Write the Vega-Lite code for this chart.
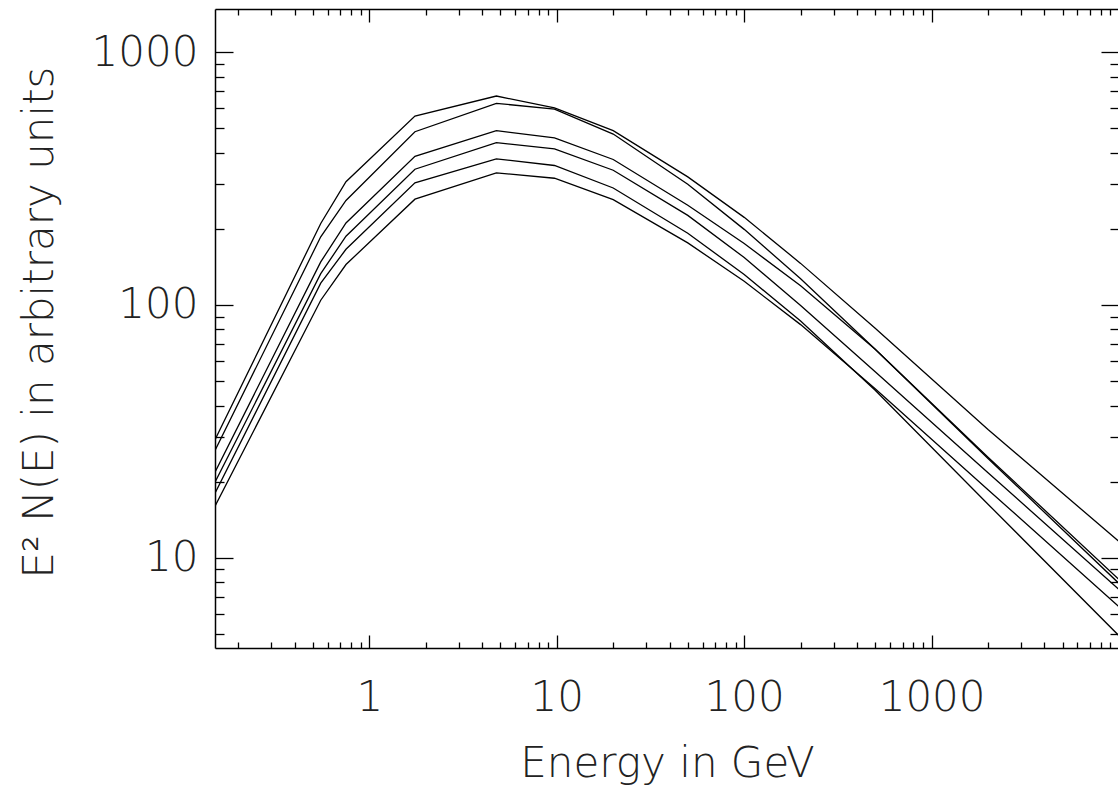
{
  "$schema": "https://vega.github.io/schema/vega-lite/v6.json",
  "width": 904,
  "height": 639,
  "autosize": {"type": "none"},
  "padding": {"left": 215, "top": 9, "right": 0, "bottom": 138},
  "background": "white",
  "config": {
    "view": {"stroke": null},
    "axis": {
      "grid": false,
      "domainColor": "black",
      "domainWidth": 1.5,
      "tickColor": "black",
      "tickWidth": 1.3,
      "labelFont": "'DejaVu Sans ExtraLight', 'DejaVu Sans'",
      "labelFontWeight": 200,
      "labelColor": "#222222",
      "titleFont": "'DejaVu Sans ExtraLight', 'DejaVu Sans'",
      "titleFontWeight": 200,
      "titleColor": "#222222",
      "labelOverlap": false,
      "labelFlush": false,
      "labelBound": false
    }
  },
  "datasets": {
    "curves": [
      {"curve": "A", "E": 0.15, "F": 29.3}, {"curve": "A", "E": 0.55, "F": 210}, {"curve": "A", "E": 0.75, "F": 307}, {"curve": "A", "E": 1.75, "F": 558}, {"curve": "A", "E": 4.76, "F": 670}, {"curve": "A", "E": 9.72, "F": 602}, {"curve": "A", "E": 20, "F": 489}, {"curve": "A", "E": 50, "F": 321}, {"curve": "A", "E": 100, "F": 222}, {"curve": "A", "E": 200, "F": 146}, {"curve": "A", "E": 500, "F": 80.9}, {"curve": "A", "E": 2000, "F": 32.2}, {"curve": "A", "E": 10000, "F": 11.6},
      {"curve": "B", "E": 0.15, "F": 26.6}, {"curve": "B", "E": 0.55, "F": 186}, {"curve": "B", "E": 0.75, "F": 259}, {"curve": "B", "E": 1.75, "F": 484}, {"curve": "B", "E": 4.76, "F": 627}, {"curve": "B", "E": 9.72, "F": 595}, {"curve": "B", "E": 20, "F": 474}, {"curve": "B", "E": 50, "F": 300}, {"curve": "B", "E": 100, "F": 199}, {"curve": "B", "E": 200, "F": 127}, {"curve": "B", "E": 500, "F": 66.8}, {"curve": "B", "E": 2000, "F": 25.0}, {"curve": "B", "E": 10000, "F": 8.21},
      {"curve": "C", "E": 0.15, "F": 21.8}, {"curve": "C", "E": 0.55, "F": 148}, {"curve": "C", "E": 0.75, "F": 211}, {"curve": "C", "E": 1.75, "F": 387}, {"curve": "C", "E": 4.76, "F": 489}, {"curve": "C", "E": 9.72, "F": 458}, {"curve": "C", "E": 20, "F": 376}, {"curve": "C", "E": 50, "F": 248}, {"curve": "C", "E": 100, "F": 175}, {"curve": "C", "E": 200, "F": 119}, {"curve": "C", "E": 500, "F": 66.8}, {"curve": "C", "E": 2000, "F": 24.7}, {"curve": "C", "E": 10000, "F": 7.92},
      {"curve": "D", "E": 0.15, "F": 19.9}, {"curve": "D", "E": 0.55, "F": 133}, {"curve": "D", "E": 0.75, "F": 187}, {"curve": "D", "E": 1.75, "F": 344}, {"curve": "D", "E": 4.76, "F": 438}, {"curve": "D", "E": 9.72, "F": 414}, {"curve": "D", "E": 20, "F": 341}, {"curve": "D", "E": 50, "F": 226}, {"curve": "D", "E": 100, "F": 154}, {"curve": "D", "E": 200, "F": 99.5}, {"curve": "D", "E": 500, "F": 54.4}, {"curve": "D", "E": 2000, "F": 21.7}, {"curve": "D", "E": 10000, "F": 7.5},
      {"curve": "E", "E": 0.15, "F": 18.0}, {"curve": "E", "E": 0.55, "F": 122}, {"curve": "E", "E": 0.75, "F": 166}, {"curve": "E", "E": 1.75, "F": 304}, {"curve": "E", "E": 4.76, "F": 378}, {"curve": "E", "E": 9.72, "F": 356}, {"curve": "E", "E": 20, "F": 290}, {"curve": "E", "E": 50, "F": 192}, {"curve": "E", "E": 100, "F": 132}, {"curve": "E", "E": 200, "F": 86.4}, {"curve": "E", "E": 500, "F": 46.0}, {"curve": "E", "E": 2000, "F": 16.3}, {"curve": "E", "E": 10000, "F": 4.92},
      {"curve": "F", "E": 0.15, "F": 16.0}, {"curve": "F", "E": 0.55, "F": 104.4}, {"curve": "F", "E": 0.75, "F": 144.5}, {"curve": "F", "E": 1.75, "F": 262}, {"curve": "F", "E": 4.76, "F": 333}, {"curve": "F", "E": 9.72, "F": 317}, {"curve": "F", "E": 20, "F": 261}, {"curve": "F", "E": 50, "F": 176}, {"curve": "F", "E": 100, "F": 124}, {"curve": "F", "E": 200, "F": 83.6}, {"curve": "F", "E": 500, "F": 46.6}, {"curve": "F", "E": 2000, "F": 18.6}, {"curve": "F", "E": 10000, "F": 6.41}
    ]
  },
  "data": {"name": "curves"},
  "encoding": {
    "detail": {"field": "curve", "type": "nominal"}
  },
  "layer": [
    {
      "mark": {"type": "line", "color": "black", "strokeWidth": 1.3, "clip": true},
      "encoding": {
        "x": {
          "field": "E", "type": "quantitative",
          "scale": {"type": "log", "domain": [0.15, 10000], "nice": false},
          "axis": {
            "orient": "bottom",
            "values": [1, 10, 100, 1000],
            "format": "d",
            "tickSize": -13,
            "labelFontSize": 42,
            "labelPadding": 42,
            "title": "Energy in GeV",
            "titleFontSize": 42,
            "titleBaseline": "alphabetic",
            "titleY": 128
          }
        },
        "y": {
          "field": "F", "type": "quantitative",
          "scale": {"type": "log", "domain": [4.4, 1480], "nice": false},
          "axis": {
            "orient": "left",
            "values": [10, 100, 1000],
            "format": "d",
            "tickSize": -18,
            "labelFontSize": 42,
            "labelPadding": 35,
            "title": "E² N(E) in arbitrary units",
            "titleFontSize": 42,
            "titleAngle": -90,
            "titleAlign": "center",
            "titleBaseline": "alphabetic",
            "titleX": -163,
            "titleY": 313
          }
        }
      }
    },
    {
      "mark": {"type": "line", "strokeOpacity": 0},
      "encoding": {
        "x": {
          "field": "E", "type": "quantitative",
          "scale": {"type": "log", "domain": [0.15, 10000], "nice": false},
          "axis": {
            "orient": "bottom",
            "values": [0.2,0.3,0.4,0.5,0.6,0.7,0.8,0.9,2,3,4,5,6,7,8,9,20,30,40,50,60,70,80,90,200,300,400,500,600,700,800,900,2000,3000,4000,5000,6000,7000,8000,9000],
            "tickSize": -6,
            "labels": false,
            "domain": false,
            "title": null
          }
        },
        "y": {
          "field": "F", "type": "quantitative",
          "scale": {"type": "log", "domain": [4.4, 1480], "nice": false},
          "axis": {
            "orient": "left",
            "values": [5,6,7,8,9,20,30,40,50,60,70,80,90,200,300,400,500,600,700,800,900],
            "tickSize": -9,
            "labels": false,
            "domain": false,
            "title": null
          }
        }
      }
    },
    {
      "mark": {"type": "line", "strokeOpacity": 0},
      "encoding": {
        "x": {
          "field": "E", "type": "quantitative",
          "scale": {"type": "log", "domain": [0.15, 10000], "nice": false},
          "axis": {
            "orient": "top",
            "values": [1, 10, 100, 1000],
            "tickSize": -13,
            "labels": false,
            "title": null
          }
        },
        "y": {
          "field": "F", "type": "quantitative",
          "scale": {"type": "log", "domain": [4.4, 1480], "nice": false},
          "axis": {
            "orient": "right",
            "values": [10, 100, 1000],
            "tickSize": -18,
            "labels": false,
            "title": null
          }
        }
      }
    },
    {
      "mark": {"type": "line", "strokeOpacity": 0},
      "encoding": {
        "x": {
          "field": "E", "type": "quantitative",
          "scale": {"type": "log", "domain": [0.15, 10000], "nice": false},
          "axis": {
            "orient": "top",
            "values": [0.2,0.3,0.4,0.5,0.6,0.7,0.8,0.9,2,3,4,5,6,7,8,9,20,30,40,50,60,70,80,90,200,300,400,500,600,700,800,900,2000,3000,4000,5000,6000,7000,8000,9000],
            "tickSize": -6,
            "labels": false,
            "domain": false,
            "title": null
          }
        },
        "y": {
          "field": "F", "type": "quantitative",
          "scale": {"type": "log", "domain": [4.4, 1480], "nice": false},
          "axis": {
            "orient": "right",
            "values": [5,6,7,8,9,20,30,40,50,60,70,80,90,200,300,400,500,600,700,800,900],
            "tickSize": -9,
            "labels": false,
            "domain": false,
            "title": null
          }
        }
      }
    }
  ],
  "resolve": {"axis": {"x": "independent", "y": "independent"}}
}
